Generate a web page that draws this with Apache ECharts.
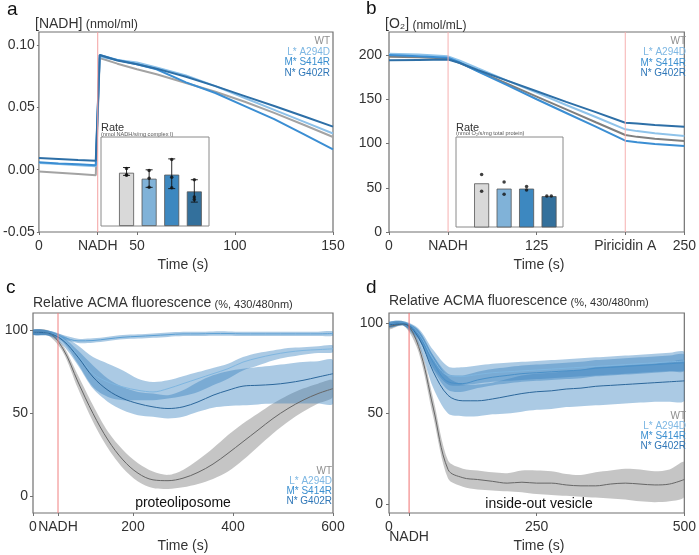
<!DOCTYPE html>
<html><head><meta charset="utf-8">
<script src="https://cdn.jsdelivr.net/npm/echarts@6/dist/echarts.min.js"></script>
<style>html,body{margin:0;padding:0;background:#fff}#c{width:699px;height:555px}</style>
</head><body><div id="c"></div>
<script>
// ---------------- DATA ----------------
const strains = ['WT', 'L* A294D', 'M* S414R', 'N* G402R'];

// Panel a: [NADH] (nmol/ml)
const aTime = [0, 10, 20, 29, 31, 40, 50, 60, 75, 90, 105, 120, 135, 150];
const aWT = [-0.0015, -0.0025, -0.0035, -0.0045, 0.0895, 0.085, 0.0805, 0.0765, 0.0695, 0.0625, 0.0545, 0.0455, 0.036, 0.0262];
const aL  = [0.0053, 0.0045, 0.0035, 0.0027, 0.0905, 0.088, 0.086, 0.082, 0.0755, 0.067, 0.0575, 0.048, 0.0385, 0.029];
const aM  = [0.006, 0.005, 0.0043, 0.0035, 0.092, 0.088, 0.0845, 0.0805, 0.070, 0.0615, 0.051, 0.0405, 0.0285, 0.0163];
const aN  = [0.0094, 0.0086, 0.0078, 0.0071, 0.092, 0.0875, 0.0845, 0.081, 0.0745, 0.067, 0.059, 0.051, 0.0428, 0.0345];
const aXTicks = [0, 30, 50, 100, 150];
const aXLabels = ['0', 'NADH', '50', '100', '150'];
const aYTicks = [-0.05, 0, 0.05, 0.1];
const aYLabels = ['-0.05', '0.00', '0.05', '0.10'];
const aNadh = 30;

// Inset a: NADH oxidation rate
const nadhRate = [10.47, 9.3, 10.1, 6.8];
const nadhErrLo = [9.95, 7.6, 7.35, 4.7];
const nadhErrHi = [11.5, 11.05, 13.2, 9.1];
const nadhPoints = [[11.3, 10.1, 10.0], [10.9, 9.4, 7.6], [13.1, 9.6, 7.5], [9.1, 5.7, 5.2]];
const nadhYTicks = [5, 10, 15];

// Panel b: [O2] (nmol/mL)
const bTime = [0, 25, 50, 60, 75, 100, 125, 150, 175, 200, 210, 225, 250];
const bWT = [198, 197.5, 196, 191, 182, 167.5, 153, 138.5, 124, 109.6, 107.5, 105.5, 102.8];
const bL  = [201.5, 200.5, 198.5, 193.5, 185, 171, 157.5, 143.5, 130, 116, 114, 111.5, 108.5];
const bM  = [200, 198.5, 197, 191.5, 181.5, 166, 150, 134.5, 119, 103.2, 101.5, 99.5, 97.2];
const bN  = [194, 194.5, 195, 191, 183, 171, 159, 147, 135.5, 123.5, 122.5, 121, 119];
const bXTicks = [0, 50, 125, 200, 250];
const bXLabels = ['0', 'NADH', '125', 'Piricidin A', '250'];
const bYTicks = [0, 50, 100, 150, 200];
const bMarks = [50, 200];

// Inset b: O2 consumption rate
const o2Rate = [1.49, 1.37, 1.37, 1.2];
const o2Points = [[1, 1.69], [1, 1.31], [2, 1.52], [2, 1.24], [3, 1.42], [3, 1.34], [3.9, 1.2], [4.1, 1.2]];
const o2YTicks = [1, 2];

// Panel c: proteoliposome ACMA
const cTime = [0, 30, 60, 90, 120, 150, 180, 210, 240, 270, 300, 330, 360, 390, 420, 450, 480, 510, 540, 570, 600];
const cWT    = [99, 98.5, 89, 69, 50, 34, 22, 14, 10, 9.5, 11, 14.5, 19.5, 26, 33, 40, 47, 53, 58, 62, 65];
const cWTUp  = [100.5, 100, 91, 73, 55, 39, 28, 20, 15, 13, 16, 22, 29, 37, 44, 50, 56, 61, 65, 68, 70];
const cWTLo  = [97.5, 97, 87, 65, 45, 29, 17, 9, 5, 4.5, 5.5, 7.5, 10.5, 15, 22, 30, 38, 45, 51, 56, 60];
const cL     = [99, 98.5, 96, 93.8, 94, 95, 96, 96.5, 97, 97.5, 98, 98, 98.2, 98.2, 98, 98, 98, 98, 98, 98, 98.2];
const cLUp   = [100.5, 100, 97.3, 95.1, 95.3, 96.3, 97.3, 97.8, 98.3, 98.8, 99.3, 99.3, 99.5, 99.5, 99.3, 99.3, 99.3, 99.3, 99.3, 99.3, 99.5];
const cLLo   = [97.5, 97, 94.7, 92.5, 92.7, 93.7, 94.7, 95.2, 95.7, 96.2, 96.7, 96.7, 96.9, 96.9, 96.7, 96.7, 96.7, 96.7, 96.7, 96.7, 96.9];
const cM     = [99, 98.5, 95, 85, 74, 69, 66, 64, 63, 65, 68, 71, 74, 77, 81, 83.5, 85.5, 87, 88, 88.5, 89];
const cMUp   = [100.5, 100, 97, 91, 84, 80, 76, 71, 69, 70, 72.5, 75, 77.5, 80, 84, 86.5, 88, 89.5, 90, 90.5, 91];
const cMLo   = [97.5, 97, 93, 80, 66, 60, 58, 58, 58, 59, 60.5, 63, 67, 71, 76, 79, 82, 84, 85.5, 86.5, 87];
const cN     = [99, 98.5, 94, 84, 72, 64, 59, 56, 54, 53, 54, 57, 61, 64, 66.5, 67, 67.5, 68.5, 70, 72, 74];
const cNUp   = [100.5, 100, 96, 88, 79, 71, 66, 63, 62, 61, 64, 69, 73, 75.5, 77, 78, 79, 80, 81, 81.5, 82];
const cNLo   = [97.5, 97, 91, 79, 65, 57, 52, 49, 48, 47, 48, 51, 53.5, 54.5, 55, 55.5, 56, 56, 56, 56, 56];
const cXTicks = [0, 50, 200, 400, 600];
const cXLabels = ['0', 'NADH', '200', '400', '600'];
const cYTicks = [0, 50, 100];
const cNadh = 50;

// Panel d: inside-out vesicle ACMA
const dTime = [0, 25, 50, 75, 100, 125, 150, 175, 200, 225, 250, 275, 300, 325, 350, 375, 400, 425, 450, 475, 500];
const dWT    = [98, 99.5, 87, 53, 19, 14.5, 13.5, 12.5, 11.5, 12, 11.5, 11.5, 10.5, 10, 10, 11, 11.5, 11, 10.5, 11, 13.5];
const dWTUp  = [99.5, 100.5, 90, 58, 24, 19.5, 18.5, 17.5, 17, 18.5, 18.5, 18, 16.5, 16, 17.5, 18.5, 19.5, 19, 18, 19, 23];
const dWTLo  = [96.5, 98.5, 84, 48, 14, 9.5, 8, 7.5, 7, 6.5, 5.5, 5, 4.5, 4, 3.5, 3, 2.5, 1.5, 1, 1.5, 4];
const dL     = [99, 100, 94, 80, 71, 70.5, 71.5, 72.5, 73, 73.5, 74, 74.5, 75, 75.5, 76, 76.5, 77, 77.5, 78, 78.5, 79];
const dLUp   = [100.5, 101, 97, 85, 76, 75.5, 76.5, 77.5, 78, 78.5, 79, 79.5, 80, 80.5, 81, 81.5, 82, 82.5, 83, 83.5, 84];
const dLLo   = [97.5, 98.5, 91, 75, 66, 65.5, 66.5, 67.5, 68, 68.5, 69, 69.5, 70, 70.5, 71, 71.5, 72, 72.5, 73, 73.5, 74];
const dM     = [99, 100, 93.5, 78, 67.5, 66.5, 68.5, 70, 71, 72, 72.5, 73, 73.5, 74, 75, 75.5, 76, 76.5, 77, 77.5, 78];
const dMUp   = [100.5, 101, 96, 82, 72, 71, 73, 74.5, 75.5, 76.5, 77, 77.5, 78, 78.5, 79.5, 80, 80.5, 81, 81.5, 82, 82.5];
const dMLo   = [97.5, 98.5, 91, 74, 63, 62, 64, 65.5, 66.5, 67.5, 68, 68.5, 69, 69.5, 70.5, 71, 71.5, 72, 72.5, 73, 73.5];
const dN     = [99, 99.5, 92, 73, 60, 57, 57, 58, 59.5, 61, 62, 62.5, 63.5, 64, 65, 65.5, 66, 66.5, 67, 67.5, 68];
const dNUp   = [100.5, 100.5, 96, 82, 70, 66, 66, 67, 69, 71, 72, 72.5, 73.5, 74, 75.5, 76, 76.5, 77, 77.5, 78.5, 79];
const dNLo   = [97.5, 98.5, 88, 64, 50, 48.5, 48.5, 49.5, 50, 51, 52, 52.5, 53.5, 54, 54.5, 55, 55.5, 56, 56.5, 56.5, 57];
const dXTicks = [0, 250, 500];
const dXLabels = ['0', '250', '500'];
const dNadhTick = [34];
const dNadhLabel = ['NADH'];
const dYTicks = [0, 50, 100];
const dNadh = 34;

// axis ranges
const aYRange = [-0.05, 0.1104];
const bYRange = [0, 226];
const cYRange = [-10, 110.6];
const dYRange = [-5, 105.5];

// ---------------- STYLE ----------------
const FONT = '"Liberation Sans", Arial, Helvetica, sans-serif';
const TXT = '#333';
const FRAME = '#717171';
const lineColA = ['#a3a3a3', '#8cc0e8', '#3b8ed3', '#2d6fa7'];
const lineColB = ['#7f7f7f', '#8fc3ea', '#3b8ed3', '#2d6fa7'];
const barCol = ['#d9d9d9', '#80b2d8', '#3d88c0', '#33709c'];
const legCol = ['#8e8e8e', '#7db7e3', '#3a8fd0', '#2f77b8'];
const bandBlue = 'rgba(55,128,190,0.42)';
const bandGrey = 'rgba(140,140,140,0.5)';

function pairs(xs, ys) { return xs.map((x, i) => [x, ys[i]]); }

function fmt(vals, labels) {
  return function (v) {
    for (let i = 0; i < vals.length; i++) if (Math.abs(vals[i] - v) < 1e-9) return labels[i];
    return '';
  };
}

function xMain(gi, min, max, vals, labels, margin) {
  return {
    type: 'value', gridIndex: gi, min: min, max: max, position: 'bottom',
    axisLine: { show: false, onZero: false }, splitLine: { show: false },
    axisTick: { show: true, customValues: vals, length: 3, lineStyle: { color: FRAME } },
    axisLabel: { customValues: vals, margin: margin || 7, fontSize: 14, color: TXT, fontFamily: FONT,
      hideOverlap: false, showMinLabel: true, showMaxLabel: true,
      formatter: fmt(vals, labels) }
  };
}
function yMain(gi, range, vals, labels, margin, tickLen) {
  return {
    type: 'value', gridIndex: gi, min: range[0], max: range[1],
    axisLine: { show: false, onZero: false }, splitLine: { show: false },
    axisTick: { show: tickLen > 0, customValues: vals, length: tickLen, lineStyle: { color: FRAME } },
    axisLabel: { customValues: vals, margin: margin, fontSize: 14, color: TXT, fontFamily: FONT,
      hideOverlap: false, showMinLabel: true, showMaxLabel: true,
      formatter: fmt(vals, labels) }
  };
}

const series = [];
function addLine(xi, xs, ys, color, width) {
  series.push({ type: 'line', xAxisIndex: xi, yAxisIndex: xi, data: pairs(xs, ys),
    showSymbol: false, symbol: 'none', lineStyle: { color: color, width: width }, z: 3, silent: true });
}
function addSmooth(xi, xs, ys, color, width) {
  series.push({ type: 'line', xAxisIndex: xi, yAxisIndex: xi, data: pairs(xs, ys), smooth: 0.35,
    showSymbol: false, symbol: 'none', lineStyle: { color: color, width: width }, z: 4, silent: true });
}
function addBand(xi, xs, lo, up, color) {
  series.push({ type: 'custom', xAxisIndex: xi, yAxisIndex: xi, clip: true, z: 2, silent: true,
    data: xs.map((x, i) => [x, lo[i], up[i]]),
    renderItem: function (params, api) {
      if (params.dataIndex !== 0) return null;
      const pts = [];
      for (let i = 0; i < xs.length; i++) pts.push(api.coord([xs[i], up[i]]));
      for (let i = xs.length - 1; i >= 0; i--) pts.push(api.coord([xs[i], lo[i]]));
      const cs = params.coordSys;
      return { type: 'polygon',
        shape: { points: pts, smooth: 0.3, smoothConstraint: [[cs.x, cs.y], [cs.x + cs.width, cs.y + cs.height]] },
        style: { fill: color } };
    } });
}
function addMark(xi, xs, yr, color) {
  xs.forEach(x => {
    series.push({ type: 'line', xAxisIndex: xi, yAxisIndex: xi, data: [[x, yr[0]], [x, yr[1]]],
      symbol: 'none', lineStyle: { color: color, width: 1 }, silent: true, z: 8 });
  });
}

// Panel a
addMark(0, [aNadh], aYRange, '#f4a0a0');
addLine(0, aTime, aWT, lineColA[0], 2);
addLine(0, aTime, aL, lineColA[1], 2);
addLine(0, aTime, aM, lineColA[2], 2);
addLine(0, aTime, aN, lineColA[3], 2);
// Panel b
addMark(1, bMarks, bYRange, '#f6b0b0');
addLine(1, bTime, bWT, lineColB[0], 2);
addLine(1, bTime, bL, lineColB[1], 2);
addLine(1, bTime, bM, lineColB[2], 2);
addLine(1, bTime, bN, lineColB[3], 2);
// Panel c
addBand(2, cTime, cWTLo, cWTUp, bandGrey);
addBand(2, cTime, cLLo, cLUp, bandBlue);
addBand(2, cTime, cMLo, cMUp, bandBlue);
addBand(2, cTime, cNLo, cNUp, bandBlue);
addSmooth(2, cTime, cWT, '#666', 1);
addSmooth(2, cTime, cL, '#5a9fd4', 1);
addSmooth(2, cTime, cM, '#7fb6e0', 1);
addSmooth(2, cTime, cN, '#2b679b', 1);
addMark(2, [cNadh], cYRange, '#f08080');
// Panel d
addBand(3, dTime, dWTLo, dWTUp, bandGrey);
addBand(3, dTime, dLLo, dLUp, bandBlue);
addBand(3, dTime, dMLo, dMUp, bandBlue);
addBand(3, dTime, dNLo, dNUp, bandBlue);
addSmooth(3, dTime, dWT, '#666', 1);
addSmooth(3, dTime, dL, '#7fb6e0', 1);
addSmooth(3, dTime, dM, '#4a90c8', 1);
addSmooth(3, dTime, dN, '#2b679b', 1);
addMark(3, [dNadh], dYRange, '#f07070');

// Inset a bars
series.push({ type: 'bar', xAxisIndex: 4, yAxisIndex: 4, barWidth: 15, z: 5,
  data: nadhRate.map((v, i) => ({ value: [i + 1, v], itemStyle: { color: barCol[i] } })),
  itemStyle: { borderColor: '#555', borderWidth: 0.8 }, silent: true });
series.push({ type: 'custom', xAxisIndex: 4, yAxisIndex: 4, z: 6, silent: true,
  data: nadhErrLo.map((lo, i) => [i + 1, lo, nadhErrHi[i]]),
  renderItem: function (params, api) {
    const x = api.value(0);
    const p1 = api.coord([x, api.value(1)]);
    const p2 = api.coord([x, api.value(2)]);
    const w = 3.5, st = { stroke: '#111', lineWidth: 0.9 };
    return { type: 'group', children: [
      { type: 'line', shape: { x1: p1[0], y1: p1[1], x2: p2[0], y2: p2[1] }, style: st },
      { type: 'line', shape: { x1: p1[0] - w, y1: p1[1], x2: p1[0] + w, y2: p1[1] }, style: st },
      { type: 'line', shape: { x1: p2[0] - w, y1: p2[1], x2: p2[0] + w, y2: p2[1] }, style: st }
    ] };
  } });
const nadhPtData = [];
nadhPoints.forEach((arr, i) => arr.forEach(v => nadhPtData.push([i + 1, v])));
series.push({ type: 'scatter', xAxisIndex: 4, yAxisIndex: 4, data: nadhPtData, symbolSize: 3.5,
  itemStyle: { color: '#111' }, z: 7, silent: true });

// Inset b bars
series.push({ type: 'bar', xAxisIndex: 5, yAxisIndex: 5, barWidth: 15, z: 5,
  data: o2Rate.map((v, i) => ({ value: [i + 1, v], itemStyle: { color: barCol[i] } })),
  itemStyle: { borderColor: '#555', borderWidth: 0.8 }, silent: true });
series.push({ type: 'scatter', xAxisIndex: 5, yAxisIndex: 5, data: o2Points, symbolSize: 3.5,
  itemStyle: { color: '#111' }, z: 7, silent: true });

function insetX(gi, min, max) {
  return { type: 'value', gridIndex: gi, min: min, max: max, show: true,
    axisLine: { show: false, onZero: false }, axisTick: { show: false }, axisLabel: { show: false }, splitLine: { show: false } };
}
function insetY(gi, min, max, vals) {
  return { type: 'value', gridIndex: gi, min: min, max: max,
    axisLine: { show: false, onZero: false }, splitLine: { show: false },
    axisTick: { show: true, inside: true, customValues: vals, length: 2.5, lineStyle: { color: '#888' } },
    axisLabel: { inside: true, customValues: vals, margin: 5, fontSize: 7.5, color: '#777', fontFamily: FONT } };
}

// Text helpers
function txt(x, y, text, size, color, align) {
  return { type: 'text', x: x, y: y, silent: true, z: 100,
    style: { text: text, fontSize: size, fontFamily: FONT, fill: color, align: align || 'left', verticalAlign: 'middle' } };
}
function legend(xr, y0, step, size) {
  return strains.map((s, i) => txt(xr, y0 + i * step, s, size, legCol[i], 'right'));
}
function rtitle(x, y, big, small, bs, ss) {
  return { type: 'text', x: x, y: y, silent: true, z: 100,
    style: { text: '{b|' + big + '} {s|' + small + '}', fontFamily: FONT, fill: TXT, verticalAlign: 'middle',
      rich: { b: { fontSize: bs, fontFamily: FONT, fill: TXT, verticalAlign: 'bottom' },
              s: { fontSize: ss, fontFamily: FONT, fill: TXT, verticalAlign: 'bottom' } } } };
}

const graphics = [
  txt(7, 9.5, 'a', 19, '#111'),
  txt(366, 9, 'b', 19, '#111'),
  txt(6, 288, 'c', 19, '#111'),
  txt(366, 288, 'd', 19, '#111'),
  rtitle(35, 24.5, '[NADH]', '(nmol/ml)', 14, 12.5),
  rtitle(385, 24.5, '[O₂]', '(nmol/mL)', 14, 12),
  rtitle(33, 303, 'Relative ACMA fluorescence', '(%, 430/480nm)', 14, 11),
  rtitle(389, 301.5, 'Relative ACMA fluorescence', '(%, 430/480nm)', 14, 11),
  txt(183, 265, 'Time (s)', 14, TXT, 'center'),
  txt(539, 265, 'Time (s)', 14, TXT, 'center'),
  txt(183, 546, 'Time (s)', 14, TXT, 'center'),
  txt(539, 546.5, 'Time (s)', 14, TXT, 'center'),
  txt(183, 503, 'proteoliposome', 14, '#111', 'center'),
  txt(539, 504, 'inside-out vesicle', 14, '#111', 'center'),
  txt(101, 127.5, 'Rate', 11, TXT),
  txt(101, 134, '(nmol NADH/s/mg complex I)', 5.6, '#555'),
  txt(456, 128, 'Rate', 11, TXT),
  txt(456, 133, '(nmol O₂/s/mg total protein)', 5.6, '#555')
].concat(legend(330, 41.7, 10.5, 10), legend(686, 41.7, 10.6, 10), legend(332, 471.5, 10, 10), legend(686, 416.7, 10, 10));

const gridBase = { show: true, borderColor: FRAME, borderWidth: 1.2, backgroundColor: 'transparent' };
const dNadhAxis = xMain(3, 0, 500, dNadhTick, dNadhLabel, 17);
dNadhAxis.axisTick.show = false;
const option = {
  animation: false,
  backgroundColor: '#fff',
  textStyle: { fontFamily: FONT },
  grid: [
    Object.assign({ left: 32, top: 32, width: 301, height: 200 }, gridBase),
    Object.assign({ left: 389, top: 32, width: 300, height: 200 }, gridBase),
    Object.assign({ left: 33, top: 313, width: 300, height: 200 }, gridBase),
    Object.assign({ left: 389, top: 313, width: 300, height: 200 }, gridBase),
    { left: 101, top: 137, width: 108, height: 89, show: true, borderColor: '#8a8a8a', borderWidth: 1, backgroundColor: '#fff', z: 4 },
    { left: 456, top: 137, width: 107, height: 90, show: true, borderColor: '#8a8a8a', borderWidth: 1, backgroundColor: '#fff', z: 4 }
  ],
  xAxis: [
    xMain(0, 0, 150, aXTicks, aXLabels),
    xMain(1, 0, 250, bXTicks, bXLabels),
    xMain(2, 0, 600, cXTicks, cXLabels),
    Object.assign(xMain(3, 0, 500, dXTicks.concat(dNadhTick), dXLabels.concat(['']))),
    insetX(4, -0.13, 4.65),
    insetX(5, -0.14, 4.62),
    dNadhAxis
  ],
  yAxis: [
    yMain(0, aYRange, aYTicks, aYLabels, 4, 2),
    yMain(1, bYRange, bYTicks, bYTicks.map(String), 7, 3),
    yMain(2, cYRange, cYTicks, cYTicks.map(String), 5, 3),
    yMain(3, dYRange, dYTicks, dYTicks.map(String), 6, 3),
    insetY(4, 0, 17.5, nadhYTicks),
    insetY(5, 0.5, 2.54, o2YTicks)
  ],
  series: series,
  graphic: { elements: graphics }
};

const chart = echarts.init(document.getElementById('c'), null, { renderer: 'canvas' });
chart.setOption(option);
</script></body></html>
